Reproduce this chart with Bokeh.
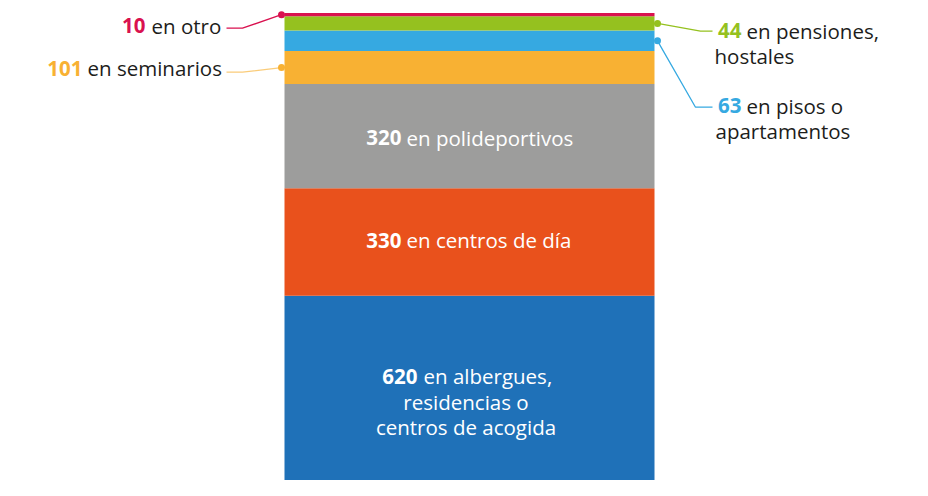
from bokeh.plotting import figure
from bokeh.models import ColumnDataSource, Range1d
from bokeh.embed import file_html
from bokeh.resources import INLINE
from bokeh.core.properties import value

# ---- data ----
categories = ["albergues, residencias o centros de acogida", "centros de día",
              "polideportivos", "seminarios", "pisos o apartamentos",
              "pensiones, hostales", "otro"]
counts = [620, 330, 320, 101, 63, 44, 10]
colors = ["#1F71B8", "#E9511C", "#9D9D9C", "#F8B133", "#36A9E1", "#95C11F", "#D9114F"]
label_lines = [["en albergues,", "residencias o", "centros de acogida"],
               ["en centros de día"],
               ["en polideportivos"],
               ["en seminarios"],
               ["en pisos o", "apartamentos"],
               ["en pensiones,", "hostales"],
               ["en otro"]]
placement = ["inside", "inside", "inside", "left", "right", "right", "left"]

# ---- layout ----
W, H = 912, 480
FONT = "Open Sans"
FS = "20.5px"
DARK = "#1D1D1B"
SHIFT = -6.5
total = sum(counts)
BAR_TOP_PX = 12.5
BAR_BOTTOM_PX = 497.0   # below the frame bottom (clipped)
ppu = (BAR_BOTTOM_PX - BAR_TOP_PX) / total


def vy(img_y):
    """pixel y (from top) -> data value"""
    return (BAR_BOTTOM_PX - img_y) / ppu


def py(v):
    """data value -> pixel y (from top)"""
    return BAR_BOTTOM_PX - v * ppu


p = figure(width=W, height=H, output_backend="svg", toolbar_location=None,
           x_range=Range1d(0, W),
           y_range=Range1d((BAR_BOTTOM_PX - H) / ppu, BAR_BOTTOM_PX / ppu),
           min_border=0, outline_line_color=None)
p.axis.visible = False
p.grid.visible = False
p.background_fill_color = "white"
p.border_fill_color = "white"

bottoms, tops = [], []
acc = 0
for c in counts:
    bottoms.append(acc)
    acc += c
    tops.append(acc)

BAR_X, BAR_W = 469, 370
src = ColumnDataSource(dict(cat=categories, bottom=bottoms, top=tops, color=colors))
p.vbar(x=BAR_X, width=BAR_W, bottom="bottom", top="top", fill_color="color",
       line_color=None, source=src)


def txt(x, img_y, s, color, bold=False, align="left"):
    p.text(x=[x], y=[vy(img_y + SHIFT)], text=[s], text_color=color,
           text_font=value(FONT), text_font_size=FS,
           text_font_style="bold" if bold else "normal",
           text_align=align, text_baseline="alphabetic")


# inside labels: (number end x, text start x, first baseline offset from center, line gap, block center x)
inside_cfg = {0: (417, 423, -14, 25.5, 465.5), 1: (401, 406, 5, 25, 468), 2: (401, 406, 8, 25, 468)}
for i, pl in enumerate(placement):
    if pl != "inside":
        continue
    nx, tx, off, gap, cx = inside_cfg[i]
    cy = (py(bottoms[i]) + py(tops[i])) / 2
    b0 = cy + off
    txt(nx, b0, str(counts[i]), "white", bold=True, align="right")
    txt(tx, b0, label_lines[i][0], "white")
    for k, line in enumerate(label_lines[i][1:], start=1):
        txt(cx, b0 + k * gap, line, "white", align="center")

# outside labels with leader lines
# (leader y px, elbow x, end x, number end x, text start x, baseline offset, 2nd line x)
out_cfg = {
    6: (27.7, 242, 226, 145, 151, 4.2, None),
    3: (71.7, 242, 226, 82, 87, 2.5, None),
    5: (30.7, 700, 712, 741, 746, 6.0, 714),
    4: (106.7, 695, 712, 741, 746, 5.0, 715),
}
for i, (ly, ex, endx, nx, tx, boff, x2) in out_cfg.items():
    cy = (bottoms[i] + tops[i]) / 2
    if placement[i] == "left":
        dx = BAR_X - BAR_W / 2 - 3
    else:
        dx = BAR_X + BAR_W / 2 + 3
    lc = colors[i]
    la = 0.65 if i == 3 else 1.0
    p.line(x=[dx, ex, endx], y=[cy, vy(ly), vy(ly)], line_color=lc,
           line_width=1.3, line_alpha=la)
    p.scatter(x=[dx], y=[cy], size=7, marker="circle", fill_color=lc, line_color=None)
    b0 = ly + boff
    txt(nx, b0, str(counts[i]), lc, bold=True, align="right")
    txt(tx, b0, label_lines[i][0], DARK)
    for k, line in enumerate(label_lines[i][1:], start=1):
        txt(x2, b0 + k * 25.5, line, DARK)

open("out.html", "w").write(file_html(p, INLINE))
